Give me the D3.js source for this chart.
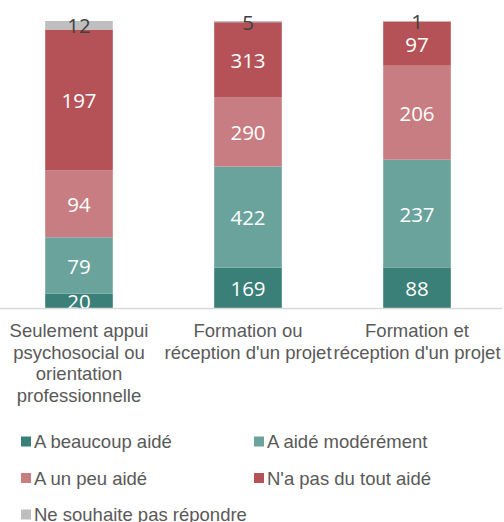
<!DOCTYPE html>
<html>
<head>
<meta charset="utf-8">
<script src="https://cdn.jsdelivr.net/npm/d3@7"></script>
<style>
  body { margin: 0; background: #ffffff; }
  svg { display: block; }
</style>
</head>
<body>
<svg id="chart" width="504" height="522"></svg>
<script>
// Categories (tick labels, already wrapped as in the picture)
const categories = ["appui", "ou", "et"];
const tickLabels = [
  ["Seulement appui", "psychosocial ou", "orientation", "professionnelle"],
  ["Formation ou", "réception d'un projet"],
  ["Formation et", "réception d'un projet"],
];
// Series, bottom to top
const seriesNames = ["A beaucoup aidé", "A aidé modérément", "A un peu aidé", "N'a pas du tout aidé", "Ne souhaite pas répondre"];
const beaucoup = [20, 169, 88];
const moderement = [79, 422, 237];
const unPeu = [94, 290, 206];
const pasDuTout = [197, 313, 97];
const neSouhaitePas = [12, 5, 1];
const colours = ["#3b8078", "#6aa39c", "#c77d81", "#b55258", "#bfbfbf"];
const labelColours = ["#ffffff", "#ffffff", "#ffffff", "#ffffff", "#404040"];

// -- Build the table for the stack -- //
const seriesValues = [beaucoup, moderement, unPeu, pasDuTout, neSouhaitePas];
const table = categories.map((c, i) => {
  let row = { cat: c };
  seriesNames.forEach((s, k) => row[s] = seriesValues[k][i]);
  return row;
});
const stack = d3.stack().keys(seriesNames).offset(d3.stackOffsetExpand);
const layers = stack(table);

// -- Layout -- //
const svg = d3.select("#chart");
const plot = { left: -5.5, right: 501.5, top: 21, bottom: 308 };
const x = d3.scaleBand().domain(categories).range([plot.left, plot.right]).paddingInner(0.6).paddingOuter(0.3);
const y = d3.scaleLinear().domain([0, 1]).range([plot.bottom, plot.top]);

svg.append("defs").append("clipPath").attr("id", "plotClip")
  .append("rect").attr("x", 0).attr("y", 0).attr("width", 504).attr("height", plot.bottom);

// Bars
const g = svg.append("g").attr("clip-path", "url(#plotClip)");
const layer = g.selectAll("g.layer")
  .data(layers)
  .join("g")
  .attr("class", "layer")
  .attr("fill", (d, k) => colours[k]);
layer.selectAll("rect")
  .data(d => d)
  .join("rect")
  .attr("x", d => x(d.data.cat))
  .attr("width", x.bandwidth())
  .attr("y", d => y(d[1]))
  .attr("height", d => y(d[0]) - y(d[1]));

// Value labels
layers.forEach((l, k) => {
  g.append("g").selectAll("text")
    .data(l)
    .join("text")
    .attr("x", d => x(d.data.cat) + x.bandwidth() / 2)
    .attr("y", d => (y(d[0]) + y(d[1])) / 2)
    .attr("text-anchor", "middle")
    .attr("dominant-baseline", "central")
    .attr("font-family", "'Open Sans', sans-serif")
    .attr("font-size", "20.5px")
    .attr("fill", labelColours[k])
    .text(d => d.data[l.key]);
});

// Axis line
svg.append("line")
  .attr("x1", 0).attr("x2", 502)
  .attr("y1", plot.bottom + 0.5).attr("y2", plot.bottom + 0.5)
  .attr("stroke", "#d9d9d9").attr("stroke-width", 1.5);

// Category labels
const catText = svg.append("g").selectAll("text")
  .data(categories)
  .join("text")
  .attr("x", d => x(d) + x.bandwidth() / 2)
  .attr("y", 337)
  .attr("text-anchor", "middle")
  .attr("font-family", "'Liberation Sans', Arial, sans-serif")
  .attr("font-size", "18.5px")
  .attr("fill", "#595959");
catText.selectAll("tspan")
  .data((d, i) => tickLabels[i])
  .join("tspan")
  .attr("x", function() { return this.parentNode.getAttribute("x"); })
  .attr("dy", (d, j) => j === 0 ? 0 : 21.5)
  .text(d => d);

// Legend
const legendPos = [[21, 441.5], [254, 441.5], [21, 478], [254, 478], [21, 514.5]];
const legend = svg.append("g").selectAll("g")
  .data(seriesNames)
  .join("g")
  .attr("transform", (d, k) => `translate(${legendPos[k][0]}, ${legendPos[k][1]})`);
legend.append("rect")
  .attr("x", 0).attr("y", -5)
  .attr("width", 10).attr("height", 10)
  .attr("fill", (d, k) => colours[k]);
legend.append("text")
  .attr("x", 13)
  .attr("y", 0)
  .attr("dominant-baseline", "central")
  .attr("font-family", "'Liberation Sans', Arial, sans-serif")
  .attr("font-size", "18.5px")
  .attr("fill", "#595959")
  .text(d => d);
</script>
</body>
</html>
